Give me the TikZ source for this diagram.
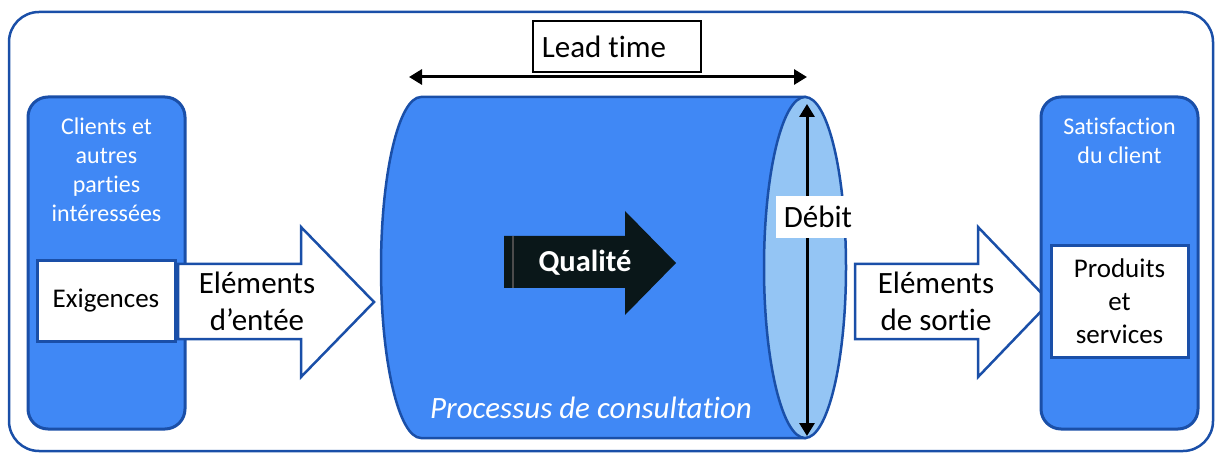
\documentclass[tikz,border=0pt]{standalone}
\usepackage{fontspec}
\setmainfont{Carlito}[Ligatures=NoCommon]
\usetikzlibrary{arrows.meta}
\definecolor{fillblue}{HTML}{4088F5}
\definecolor{lineblue}{HTML}{1A4FA8}
\definecolor{lightblue}{HTML}{94C5F4}
\definecolor{qualdark}{HTML}{0A1719}
\newcommand{\blockarrow}[3]{%
  % #1 = start x, #2 = neck x, #3 = tip x (shaft 114..189, head 76..226)
  (#1,114) -- (#2,114) -- (#2,76) -- (#3,151) -- (#2,226) -- (#2,189) -- (#1,189) -- cycle
}
\begin{document}
\begin{tikzpicture}[
      x=1pt, y=1pt,
      every node/.style={inner sep=0pt, align=center},
      frame/.style={draw=lineblue, line width=2.5pt, rounded corners=30pt},
      sidebox/.style={draw=lineblue, line width=3pt, fill=fillblue, rounded corners=20pt},
      inbox/.style={draw=lineblue, line width=3pt, fill=white},
      whitetext/.style={text=white, font=\fontsize{24}{29}\selectfont},
      boxtext/.style={font=\fontsize{27}{33}\selectfont},
      bigtext/.style={font=\fontsize{31}{37}\selectfont},
      bigarrow/.style={draw=lineblue, line width=2.5pt, fill=white, line join=miter},
      measure/.style={line width=3pt, {Triangle[length=13pt,width=15pt]}-{Triangle[length=13pt,width=15pt]}}
    ]
      \useasboundingbox (0,0) rectangle (1216,453);

      % outer frame
      \draw[frame] (9,441) rectangle (1213,2);

      % left side: clients
      \draw[sidebox] (28,356) rectangle (185,24);
      \node[whitetext] (clients) at (106.5,283) {Clients et\\autres\\parties\\intéressées};
      \node[inbox, boxtext, minimum width=138pt, minimum height=80pt] (exig) at (106,152) {Exigences};

      % input arrow
      \draw[bigarrow] \blockarrow{178}{301}{374};
      \node[bigtext] (entree) at (257,152) {Eléments\\d’entée};

      % the process cylinder
      \draw[draw=lineblue, line width=2.5pt, fill=fillblue]
        (421,356) -- (805,356) -- (805,15) -- (421,15)
        arc[start angle=270, end angle=90, x radius=40, y radius=170.5] -- cycle;
      \draw[draw=lineblue, line width=2.5pt, fill=lightblue] (805,185.5) ellipse[x radius=41, y radius=170.5];
      \node[text=white, font=\itshape\fontsize{31}{37}\selectfont] (proc) at (591,45) {Processus de consultation};

      % quality arrow inside
      \fill[qualdark] (504,165) -- (625,165) -- (625,138) -- (676,190) -- (625,242) -- (625,217) -- (504,217) -- cycle;
      \draw[black!70, line width=1.2pt] (513,165) -- (513,217);
      \node[text=white, font=\bfseries\fontsize{30.5}{36}\selectfont] (qual) at (585,190) {Qualité};

      % lead time
      \coordinate (lt1) at (409,376);
      \coordinate (lt2) at (807,376);
      \draw[measure] (lt1) -- (lt2);
      \node[draw=black, line width=1.2pt, fill=white, bigtext, minimum width=168pt, minimum height=51pt] (lead) at (617,406.5) {\hspace{-26pt}Lead time};

      % throughput
      \coordinate (db1) at (807,349);
      \coordinate (db2) at (807,17);
      \draw[measure] (db1) -- (db2);
      \node[fill=white, bigtext, minimum width=85pt, minimum height=42pt] (debit) at (818,236) {Débit};

      % output arrow
      \draw[bigarrow] \blockarrow{855}{978}{1050};
      \node[bigtext] (sortie) at (936,152) {Eléments\\de sortie};

      % right side: satisfaction
      \draw[sidebox] (1041,356) rectangle (1198,24);
      \node[whitetext] (satis) at (1119.5,312.5) {Satisfaction\\du client};
      \node[inbox, boxtext, minimum width=137pt, minimum height=111pt] (prod) at (1119.5,151.5) {Produits\\et\\services};
    \end{tikzpicture}
\end{document}
